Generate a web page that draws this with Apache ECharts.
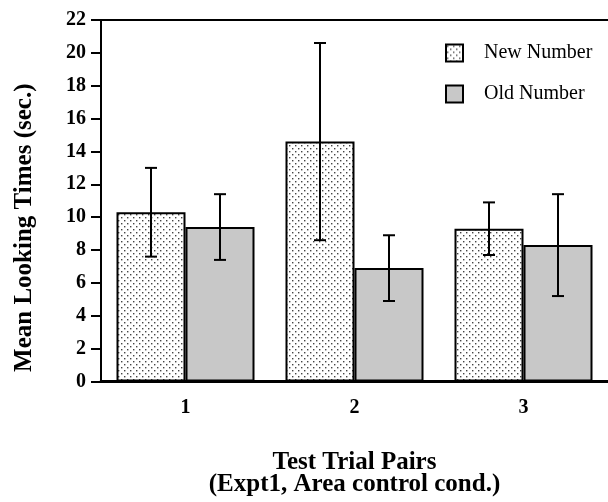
<!DOCTYPE html>
<html>
<head>
<meta charset="utf-8">
<script src="https://cdn.jsdelivr.net/npm/echarts@6/dist/echarts.min.js"></script>
<style>
  html, body { margin: 0; padding: 0; background: #fff; }
  #chart { width: 608px; height: 502px; }
</style>
</head>
<body>
<div id="chart"></div>
<script>
var categories = ['1', '2', '3'];
var newMeans = [10.3, 14.6, 9.3];
var newErr = [2.7, 6.0, 1.6];
var oldMeans = [9.4, 6.9, 8.3];
var oldErr = [2.0, 2.0, 3.1];

var FONT = '"Liberation Serif", "Times New Roman", serif';
var BAR_W = 69;

// stipple pattern for "New Number"
function dotPattern() {
    var c = document.createElement('canvas');
    c.width = 6; c.height = 6;
    var ctx = c.getContext('2d');
    ctx.fillStyle = '#fff';
    ctx.fillRect(0, 0, 6, 6);
    ctx.fillStyle = '#444';
    ctx.fillRect(1, 1, 1.4, 1.4);
    ctx.fillRect(4, 4, 1.4, 1.4);
    return c;
}

function errorSeries(means, errs, side) {
    var data = means.map(function (m, i) { return [i, m - errs[i], m + errs[i]]; });
    return {
        type: 'custom',
        z: 10,
        silent: true,
        data: data,
        encode: {x: 0, y: [1, 2]},
        renderItem: function (params, api) {
            var lo = api.coord([api.value(0), api.value(1)]);
            var hi = api.coord([api.value(0), api.value(2)]);
            var x = lo[0] + side * BAR_W / 2;
            var cap = 6;
            var style = {stroke: '#000', lineWidth: 2};
            return {
                type: 'group',
                children: [
                    {type: 'line', shape: {x1: x, y1: lo[1], x2: x, y2: hi[1]}, style: style},
                    {type: 'line', shape: {x1: x - cap, y1: hi[1], x2: x + cap, y2: hi[1]}, style: style},
                    {type: 'line', shape: {x1: x - cap, y1: lo[1], x2: x + cap, y2: lo[1]}, style: style}
                ]
            };
        }
    };
}

var chart = echarts.init(document.getElementById('chart'));
var option = {
    animation: false,
    backgroundColor: '#fff',
    textStyle: {fontFamily: FONT},
    grid: {left: 101, right: -8, top: 20, bottom: 119},
    legend: {
        orient: 'vertical',
        left: 440,
        top: 38,
        icon: 'rect',
        itemWidth: 17,
        itemHeight: 17,
        itemGap: 21,
        textStyle: {fontFamily: FONT, fontSize: 20, color: '#000', padding: [0, 0, 0, 16]},
        data: ['New Number', 'Old Number']
    },
    xAxis: [{
        type: 'category',
        data: categories,
        boundaryGap: true,
        axisLine: {lineStyle: {color: '#000', width: 3}},
        axisTick: {alignWithLabel: true, length: 10, lineStyle: {color: '#000', width: 2}},
        axisLabel: {color: '#000', fontFamily: FONT, fontWeight: 'bold', fontSize: 20, margin: 16},
        name: 'Test Trial Pairs\n(Expt1, Area control cond.)',
        nameLocation: 'middle',
        nameGap: 70,
        nameTextStyle: {color: '#000', fontFamily: FONT, fontWeight: 'bold', fontSize: 25, lineHeight: 22, verticalAlign: 'top'}
    }, {
        type: 'category',
        position: 'top',
        data: categories,
        axisLine: {lineStyle: {color: '#000', width: 2}},
        axisTick: {show: false},
        axisLabel: {show: false}
    }],
    yAxis: {
        type: 'value',
        min: 0,
        max: 22,
        interval: 2,
        axisLine: {show: true, lineStyle: {color: '#000', width: 2}},
        axisTick: {show: true, length: 10, lineStyle: {color: '#000', width: 2}},
        splitLine: {show: false},
        axisLabel: {color: '#000', fontFamily: FONT, fontWeight: 'bold', fontSize: 20, margin: 15},
        name: 'Mean Looking Times (sec.)',
        nameLocation: 'middle',
        nameGap: 64,
        nameTextStyle: {color: '#000', fontFamily: FONT, fontWeight: 'bold', fontSize: 25, padding: [0, 54, 0, 0]}
    },
    series: [{
        name: 'New Number',
        type: 'bar',
        data: newMeans,
        barWidth: BAR_W,
        barGap: '0%',
        itemStyle: {
            color: {image: dotPattern(), repeat: 'repeat'},
            borderColor: '#000',
            borderWidth: 2
        }
    }, {
        name: 'Old Number',
        type: 'bar',
        data: oldMeans,
        barWidth: BAR_W,
        barGap: '0%',
        itemStyle: {color: '#c8c8c8', borderColor: '#000', borderWidth: 2}
    },
    errorSeries(newMeans, newErr, -1),
    errorSeries(oldMeans, oldErr, 1)]
};
chart.setOption(option);
</script>
</body>
</html>
